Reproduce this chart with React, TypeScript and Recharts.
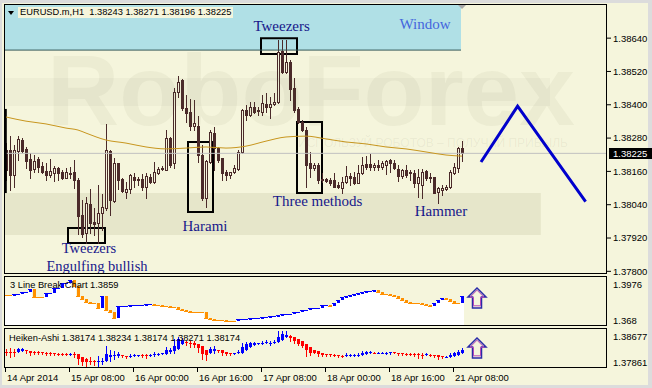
import React from 'react';
import {
  Bar,
  ComposedChart,
  Line,
  ReferenceArea,
  ReferenceDot,
  ReferenceLine,
  XAxis,
  YAxis,
} from 'recharts';

// EURUSD.m H1, one value per bar
const opens = [
  1.38237, 1.38237, 1.38147, 1.38233, 1.38273, 1.38241, 1.38205, 1.38169, 1.38205, 1.38179,
  1.38161, 1.38147, 1.38154, 1.38172, 1.38158, 1.38136, 1.38154, 1.38158, 1.38129, 1.38003,
  1.37938, 1.38043, 1.37978, 1.37974, 1.3801, 1.38028, 1.38233, 1.38053, 1.3819, 1.38133,
  1.38086, 1.38097, 1.3814, 1.38133, 1.38133, 1.38104, 1.3814, 1.38122, 1.38154, 1.38169,
  1.38165, 1.3828, 1.3819, 1.38446, 1.38489, 1.38388, 1.38374, 1.38323, 1.38323, 1.38219,
  1.38064, 1.38194, 1.38298, 1.38244, 1.38208, 1.38158, 1.38147, 1.38158, 1.38169, 1.3823,
  1.38381, 1.38363, 1.38392, 1.38378, 1.38374, 1.38403, 1.38392, 1.38403, 1.3841, 1.38593,
  1.38518, 1.38554, 1.3846, 1.38385, 1.38338, 1.38309, 1.3819, 1.38172, 1.38183, 1.38133,
  1.38133, 1.38129, 1.38129, 1.38111, 1.381, 1.38122, 1.38143, 1.3814, 1.38118, 1.38154,
  1.38187, 1.38187, 1.38176, 1.38183, 1.38176, 1.38183, 1.38201, 1.3819, 1.38169, 1.38143,
  1.38165, 1.38158, 1.38154, 1.38118, 1.38111, 1.38161, 1.3814, 1.3814, 1.38086, 1.38093,
  1.38097, 1.38104, 1.38154, 1.38172, 1.38243,
];
const highs = [
  1.38262, 1.38287, 1.38255, 1.38287, 1.3828, 1.38248, 1.38226, 1.38219, 1.38212, 1.38194,
  1.3819, 1.38205, 1.38179, 1.38176, 1.38165, 1.38172, 1.38176, 1.38201, 1.38136, 1.38057,
  1.38068, 1.38097, 1.38028, 1.38111, 1.38079, 1.38331, 1.38237, 1.38208, 1.3819, 1.38136,
  1.38122, 1.38151, 1.38154, 1.3814, 1.38151, 1.38154, 1.38151, 1.38194, 1.38176, 1.38179,
  1.38309, 1.38284, 1.3846, 1.38503, 1.38493, 1.38435, 1.38421, 1.38417, 1.38359, 1.38255,
  1.38201, 1.38309, 1.3832, 1.38248, 1.38208, 1.38165, 1.38158, 1.38183, 1.38237, 1.38385,
  1.38399, 1.3841, 1.3841, 1.38392, 1.38435, 1.38442, 1.38428, 1.38442, 1.38633, 1.38633,
  1.38633, 1.38561, 1.38496, 1.38392, 1.38345, 1.3832, 1.3823, 1.3819, 1.3819, 1.38154,
  1.38136, 1.38136, 1.38154, 1.38122, 1.3814, 1.38179, 1.38154, 1.38158, 1.38183, 1.38212,
  1.38215, 1.38223, 1.3819, 1.38201, 1.38197, 1.38201, 1.38205, 1.38201, 1.38183, 1.38169,
  1.38183, 1.38165, 1.38165, 1.38169, 1.38169, 1.38165, 1.38154, 1.3814, 1.38104, 1.38111,
  1.38111, 1.38165, 1.3819, 1.38248, 1.38271,
];
const lows = [
  1.38129, 1.38093, 1.38104, 1.38201, 1.3823, 1.38172, 1.38136, 1.38158, 1.38158, 1.38154,
  1.38129, 1.3814, 1.38125, 1.38129, 1.38133, 1.38136, 1.38136, 1.381, 1.37935, 1.37924,
  1.37902, 1.37938, 1.37931, 1.37902, 1.37949, 1.38021, 1.38003, 1.3805, 1.38097, 1.38086,
  1.38064, 1.38082, 1.38104, 1.38111, 1.38093, 1.38064, 1.38118, 1.38118, 1.38151, 1.38165,
  1.38165, 1.38176, 1.38172, 1.38428, 1.38381, 1.38338, 1.38309, 1.38309, 1.38194, 1.38057,
  1.38032, 1.3819, 1.38165, 1.38194, 1.38129, 1.38129, 1.38136, 1.38154, 1.38165, 1.38226,
  1.38345, 1.38359, 1.3837, 1.38363, 1.38363, 1.38374, 1.38352, 1.38399, 1.38406, 1.38514,
  1.38514, 1.38417, 1.38374, 1.38334, 1.38305, 1.38104, 1.3814, 1.38165, 1.38118, 1.38122,
  1.38122, 1.38111, 1.38104, 1.381, 1.38082, 1.38118, 1.38111, 1.38115, 1.38118, 1.38151,
  1.38169, 1.38165, 1.38165, 1.38165, 1.38169, 1.38151, 1.38158, 1.38169, 1.38125, 1.38136,
  1.3814, 1.38129, 1.38104, 1.38068, 1.38064, 1.38129, 1.38122, 1.38082, 1.38046, 1.38075,
  1.38093, 1.381, 1.38151, 1.38158, 1.38196,
];
const closes = [
  1.38165, 1.38147, 1.38237, 1.38277, 1.38233, 1.38197, 1.38165, 1.38197, 1.38176, 1.38158,
  1.38147, 1.38161, 1.38172, 1.38154, 1.38136, 1.38158, 1.38151, 1.38129, 1.37999, 1.37935,
  1.38046, 1.37974, 1.37971, 1.3801, 1.38032, 1.38237, 1.38057, 1.3819, 1.38129, 1.38089,
  1.38097, 1.38147, 1.38129, 1.38129, 1.38104, 1.38143, 1.38122, 1.38158, 1.38169, 1.38172,
  1.3828, 1.38183, 1.38446, 1.38482, 1.38388, 1.3837, 1.38323, 1.38334, 1.38219, 1.38064,
  1.38197, 1.38302, 1.38244, 1.38201, 1.38154, 1.38147, 1.38158, 1.38172, 1.3823, 1.38381,
  1.38363, 1.38392, 1.38374, 1.38381, 1.38406, 1.38392, 1.38403, 1.3841, 1.3859, 1.38518,
  1.38554, 1.38457, 1.38381, 1.38338, 1.38309, 1.38183, 1.38172, 1.38183, 1.38129, 1.38129,
  1.38125, 1.38118, 1.38104, 1.38104, 1.38122, 1.38143, 1.38136, 1.38118, 1.38154, 1.38183,
  1.38176, 1.38176, 1.38183, 1.38176, 1.3819, 1.38197, 1.3819, 1.38172, 1.38143, 1.38165,
  1.38147, 1.38154, 1.38118, 1.3814, 1.38158, 1.38136, 1.38136, 1.38082, 1.381, 1.381,
  1.38104, 1.38158, 1.38176, 1.38244, 1.38225,
];

// moving average, read at a few bars
const maBars = [0, 5, 10, 15, 18, 20, 25, 30, 35, 40, 45, 50, 55, 60, 65, 70, 75, 80, 85, 90, 95, 100, 105, 110, 114];
const maValues = [
  1.38356, 1.38341, 1.38331, 1.38316, 1.38309, 1.38298, 1.38273, 1.38262, 1.38248, 1.38241,
  1.38244, 1.38248, 1.38244, 1.38251, 1.38269, 1.38284, 1.38287, 1.38277, 1.38266, 1.38259,
  1.38248, 1.38241, 1.3823, 1.38219, 1.38215,
];

// hand-drawn forecast zigzag (bar position, price)
const zigzagBars = [118.75, 127.9, 144.9];
const zigzagPrices = [1.38194, 1.38395, 1.38051];

// 3 Line Break level per bar
const lineBreak = [
  1.3867, 1.3867, 1.3873, 1.3873, 1.3885, 1.3885, 1.3904, 1.3855, 1.3855, 1.3855,
  1.3879, 1.3879, 1.391, 1.391, 1.394, 1.394, 1.3958, 1.3922, 1.3861, 1.3843,
  1.3825, 1.3819, 1.3819, 1.3789, 1.3861, 1.3777, 1.3765, 1.3728, 1.3801, 1.3801,
  1.3801, 1.3807, 1.3807, 1.3807, 1.3807, 1.3813, 1.3813, 1.3807, 1.3807, 1.3801,
  1.3801, 1.3795, 1.3795, 1.3783, 1.3777, 1.3771, 1.3765, 1.3765, 1.3765, 1.3765,
  1.3728, 1.3722, 1.3716, 1.3716, 1.3716, 1.371, 1.371, 1.371, 1.3722, 1.3722,
  1.3722, 1.3728, 1.3728, 1.3728, 1.3734, 1.3734, 1.3741, 1.3741, 1.3747, 1.3753,
  1.3753, 1.3753, 1.3765, 1.3765, 1.3777, 1.3777, 1.3789, 1.3789, 1.3789, 1.3807,
  1.3807, 1.3801, 1.3819, 1.3837, 1.3855, 1.3861, 1.3867, 1.3873, 1.3879, 1.3885,
  1.3892, 1.3892, 1.3898, 1.3885, 1.3873, 1.3873, 1.3867, 1.3861, 1.3849, 1.3837,
  1.3825, 1.3819, 1.3819, 1.3819, 1.3813, 1.3807, 1.3801, 1.3819, 1.3837, 1.3849,
  1.3843, 1.3831, 1.3819, 1.3819, 1.3861,
];

const priceTicks = [1.3864, 1.3852, 1.384, 1.3828, 1.3816, 1.3804, 1.3792, 1.378];
const lineBreakScale = [1.368, 1.3976];
const haScale = [1.37861, 1.38677];
const dateTickBars = [0, 16, 32, 48, 64, 80, 96, 112];
const dateTickLabels = [
  '14 Apr 2014', '15 Apr 08:00', '16 Apr 00:00', '16 Apr 16:00',
  '17 Apr 08:00', '18 Apr 00:00', '18 Apr 16:00', '21 Apr 08:00',
];
const lastPrice = 1.38225;
const headerText = 'EURUSD.m,H1  1.38243 1.38271 1.38196 1.38225';
const lineBreakText = '3 Line Break Chart 1.3859';
const haText = 'Heiken-Ashi 1.38174 1.38234 1.38174 1.38271 1.38174';

const BG = '#F5F5DC';
const CANDLE = '#4B2A2A';
const NAVY = '#17178A';
const SANS = '"Liberation Sans", Arial, sans-serif';
const SERIF = '"Liberation Serif", "Times New Roman", serif';
const X_DOMAIN: [number, number] = [-0.25, 150.25];

const candles = opens.map((open, i) => ({
  i,
  open,
  high: highs[i],
  low: lows[i],
  close: closes[i],
  range: [lows[i], highs[i]],
}));

// Heiken-Ashi derived from the candles above
const heikenAshi: any[] = [];
opens.forEach((o, i) => {
  const haClose = (o + highs[i] + lows[i] + closes[i]) / 4;
  const haOpen =
    i === 0 ? (o + closes[i]) / 2 : (heikenAshi[i - 1].open + heikenAshi[i - 1].close) / 2;
  const high = Math.max(highs[i], haOpen, haClose);
  const low = Math.min(lows[i], haOpen, haClose);
  heikenAshi.push({ i, open: haOpen, close: haClose, high, low, range: [low, high] });
});

let lbColor = '#FF9000';
const lineBreakRows = lineBreak.map((lb, i) => {
  const prev = i === 0 ? lb : lineBreak[i - 1];
  if (lb > prev) lbColor = '#0000FF';
  else if (lb < prev) lbColor = '#FF9000';
  const top = Math.max(prev, lb);
  return { i, lb, prev, top, color: lbColor, col: [lineBreakScale[0], top] };
});

const maRows = maBars.map((i, k) => ({ i, ma: maValues[k] }));
const zigzagRows = zigzagBars.map((i, k) => ({ i, zz: zigzagPrices[k] }));

const CandleShape = (props: any) => {
  const { x, width, y, height, payload } = props;
  if (x == null || y == null) return null;
  const top = Math.min(y, y + height);
  const span = Math.abs(height);
  const { open, high, low, close } = payload;
  const toY = (p: number) => top + ((high - p) / (high - low)) * span;
  const cx = Math.round(x + width / 2);
  const bTop = Math.round(toY(Math.max(open, close)));
  const bBot = Math.round(toY(Math.min(open, close)));
  const bull = close > open;
  return (
    <g>
      <line x1={cx + 0.5} x2={cx + 0.5} y1={Math.round(top)} y2={Math.round(top + span) + 1} stroke={CANDLE} />
      {bBot - bTop < 1 ? (
        <rect x={cx - 1} y={bTop} width={3} height={1} fill={CANDLE} />
      ) : bull ? (
        <rect x={cx - 0.5} y={bTop + 0.5} width={2} height={bBot - bTop} fill={BG} stroke={CANDLE} />
      ) : (
        <rect x={cx - 1} y={bTop} width={3} height={bBot - bTop + 1} fill={CANDLE} />
      )}
    </g>
  );
};

const HaShape = (props: any) => {
  const { x, width, y, height, payload } = props;
  if (x == null || y == null) return null;
  const top = Math.min(y, y + height);
  const span = Math.abs(height);
  const { open, high, low, close } = payload;
  const toY = (p: number) => top + ((high - p) / (high - low)) * span;
  const cx = Math.round(x + width / 2);
  const bTop = Math.round(toY(Math.max(open, close)));
  const bBot = Math.round(toY(Math.min(open, close)));
  const color = close > open ? '#0000FF' : '#FF0000';
  return (
    <g>
      <line x1={cx + 0.5} x2={cx + 0.5} y1={Math.round(top)} y2={Math.round(top + span) + 1} stroke={color} />
      <rect x={cx - 1} y={bTop} width={3} height={Math.max(bBot - bTop, 1)} fill={color} />
    </g>
  );
};

const LineBreakShape = (props: any) => {
  const { x, width, y, height, payload } = props;
  if (x == null || y == null) return null;
  const top = Math.min(y, y + height);
  const span = Math.abs(height);
  const toY = (p: number) => top + ((payload.top - p) / (payload.top - lineBreakScale[0])) * span;
  const cx = Math.round(x + width / 2);
  const yLevel = Math.round(toY(payload.lb));
  const yPrev = Math.round(toY(payload.prev));
  const bTop = Math.min(yLevel, yPrev);
  const bBot = Math.max(yLevel, yPrev);
  return (
    <g>
      <rect x={cx - 2} y={yLevel} width={4} height={Math.round(top + span) - yLevel} fill="#FFFFFF" />
      <rect x={cx - 2} y={yLevel} width={4} height={1} fill={payload.color} />
      {bBot > bTop && (
        <rect x={cx - 1} y={bTop} width={3} height={Math.max(bBot - bTop, 2)} fill={payload.color} />
      )}
    </g>
  );
};

const textAt = (value: string, size: number, color: string, family: string) => (props: any) => (
  <text
    x={props.cx}
    y={props.cy}
    textAnchor="middle"
    dominantBaseline="central"
    fontSize={size}
    fontFamily={family}
    fill={color}
  >
    {value}
  </text>
);

const HollowArrow = (props: any) => {
  const { cx, cy } = props;
  const pts = (s: number) =>
    [[0, -10], [9, -1], [4.5, -1], [4.5, 10], [-4.5, 10], [-4.5, -1], [-9, -1]]
      .map(([dx, dy]) => `${cx + dx * s},${cy + dy * s}`)
      .join(' ');
  return (
    <g>
      <polygon points={pts(1)} fill="none" stroke="#2B2BA8" strokeWidth={1.5} />
      <polygon points={pts(0.78)} fill="none" stroke="#B648B6" strokeWidth={1} />
    </g>
  );
};

const PriceTag = (props: any) => {
  const { viewBox } = props;
  if (!viewBox) return null;
  const x = viewBox.x + viewBox.width;
  const y = viewBox.y;
  return (
    <g>
      <rect x={x + 2} y={Math.round(y) - 5} width={43} height={11} fill="#000" />
      <text x={x + 6} y={y + 0.5} dominantBaseline="central" fontSize={9.5} fontFamily={SANS} fill="#FFF">
        {lastPrice.toFixed(5)}
      </text>
    </g>
  );
};

const EdgeTick = (props: any) => {
  const { x, y, payload, top } = props;
  const isTop = payload.value === top;
  return (
    <text x={x} y={y + (isTop ? 7 : -6)} dominantBaseline="central" fontSize={9.5} fontFamily={SANS} fill="#000">
      {String(payload.value)}
    </text>
  );
};

const DateTick = (props: any) => {
  const { x, y, payload } = props;
  const k = dateTickBars.indexOf(Math.round(payload.value + 0.25));
  return (
    <g>
      <line x1={x + 0.5} x2={x + 0.5} y1={y} y2={y + 4} stroke="#000" />
      <text x={x + 2} y={y + 9.5} dominantBaseline="central" fontSize={9.5} fontFamily={SANS} fill="#000">
        {dateTickLabels[k]}
      </text>
    </g>
  );
};

const MainChart = () => (
  <ComposedChart width={652} height={280} data={candles} margin={{ top: 4, right: 0, bottom: 7, left: 5 }}>
    <XAxis type="number" dataKey="i" domain={X_DOMAIN} allowDataOverflow hide />
    <YAxis
      orientation="right"
      width={45}
      domain={[1.37794, 1.38763]}
      allowDataOverflow
      ticks={priceTicks}
      interval={0}
      axisLine={false}
      tickSize={4}
      tickMargin={2}
      tickLine={{ stroke: '#000' }}
      tick={{ fill: '#000', fontSize: 9.5, fontFamily: SANS }}
      tickFormatter={(v: number) => v.toFixed(5)}
    />
    <ReferenceArea x1={-0.25} x2={113.75} y1={1.38597} y2={1.38763} fill="#B0E0E6" fillOpacity={1} stroke="none" />
    <ReferenceLine segment={[{ x: -0.25, y: 1.38597 }, { x: 113.75, y: 1.38597 }]} stroke="#35585A" />
    <ReferenceArea x1={-0.25} x2={133.7} y1={1.37931} y2={1.38082} fill="#E6E6CA" fillOpacity={1} stroke="none" />
    <ReferenceLine y={lastPrice} stroke="#C0C0C0" label={<PriceTag />} />
    <ReferenceLine segment={[{ x: -0.05, y: 1.38385 }, { x: -0.05, y: 1.38082 }]} stroke="#000" strokeWidth={2} />
    <Line data={maRows} dataKey="ma" type="monotone" stroke="#C8961E" strokeWidth={1} dot={false} isAnimationActive={false} />
    <Bar dataKey="range" barSize={3} shape={<CandleShape />} isAnimationActive={false} />
    <Line data={zigzagRows} dataKey="zz" stroke="#0000CD" strokeWidth={3} dot={false} isAnimationActive={false} />
    <ReferenceArea x1={63.75} x2={72.75} y1={1.38583} y2={1.3864} fill="none" stroke="#000" strokeWidth={2} />
    <ReferenceArea x1={15.5} x2={24.75} y1={1.37902} y2={1.37956} fill="none" stroke="#000" strokeWidth={2} />
    <ReferenceArea x1={45.5} x2={51.75} y1={1.38014} y2={1.38266} fill="none" stroke="#000" strokeWidth={2} />
    <ReferenceArea x1={72.75} x2={79} y1={1.38082} y2={1.38338} fill="none" stroke="#000" strokeWidth={2} />
    <ReferenceDot x={104.75} y={1.38692} r={0} shape={textAt('Window', 15, '#4466DD', SERIF)} />
    <ReferenceDot x={68.9} y={1.38683} r={0} shape={textAt('Tweezers', 15, NAVY, SERIF)} />
    <ReferenceDot x={49.75} y={1.37963} r={0} shape={textAt('Harami', 15, NAVY, SERIF)} />
    <ReferenceDot x={77.9} y={1.38053} r={0} shape={textAt('Three methods', 15, NAVY, SERIF)} />
    <ReferenceDot x={108.75} y={1.38019} r={0} shape={textAt('Hammer', 15, NAVY, SERIF)} />
    <ReferenceDot x={20.75} y={1.37884} r={0} shape={textAt('Tweezers', 14.5, NAVY, SERIF)} />
    <ReferenceDot x={22.75} y={1.3782} r={0} shape={textAt('Engulfing bullish', 14.5, NAVY, SERIF)} />
  </ComposedChart>
);

const LineBreakChart = () => (
  <ComposedChart width={652} height={49} data={lineBreakRows} margin={{ top: 0, right: 0, bottom: 0, left: 5 }}>
    <XAxis type="number" dataKey="i" domain={X_DOMAIN} allowDataOverflow hide />
    <YAxis
      orientation="right"
      width={45}
      domain={lineBreakScale}
      allowDataOverflow
      ticks={lineBreakScale}
      interval={0}
      axisLine={false}
      tickLine={false}
      tickSize={4}
      tickMargin={2}
      tick={<EdgeTick top={lineBreakScale[1]} />}
    />
    <Bar dataKey="col" barSize={4} shape={<LineBreakShape />} isAnimationActive={false} />
    <ReferenceDot x={117.75} y={1.38492} r={0} shape={<HollowArrow />} />
  </ComposedChart>
);

const HeikenAshiChart = () => (
  <ComposedChart width={652} height={59} data={heikenAshi} margin={{ top: 0, right: 0, bottom: 0, left: 5 }}>
    <XAxis
      type="number"
      dataKey="i"
      domain={X_DOMAIN}
      allowDataOverflow
      height={20}
      ticks={dateTickBars.map((b) => b - 0.25)}
      interval={0}
      axisLine={false}
      tickLine={false}
      tickSize={0}
      tickMargin={0}
      tick={<DateTick />}
    />
    <YAxis
      orientation="right"
      width={45}
      domain={haScale}
      allowDataOverflow
      ticks={haScale}
      interval={0}
      axisLine={false}
      tickLine={false}
      tickSize={4}
      tickMargin={2}
      tick={<EdgeTick top={haScale[1]} />}
    />
    <Bar dataKey="range" barSize={3} shape={<HaShape />} isAnimationActive={false} />
    <ReferenceDot x={117.75} y={1.38279} r={0} shape={<HollowArrow />} />
  </ComposedChart>
);

const panelBorder = (top: number, height: number): React.CSSProperties => ({
  position: 'absolute',
  left: 4,
  top,
  width: 603,
  height,
  border: '1px solid #000',
  boxSizing: 'border-box',
  pointerEvents: 'none',
});

const smallText = (left: number, top: number): React.CSSProperties => ({
  position: 'absolute',
  left,
  top,
  fontFamily: SANS,
  fontSize: 9.3,
  lineHeight: '12px',
  color: '#000',
  whiteSpace: 'pre',
});

export default function App() {
  return (
    <div style={{ position: 'absolute', left: 0, top: 0, width: 652, height: 388, background: '#DCDCDC', overflow: 'hidden' }}>
      <div style={{ position: 'absolute', left: 2, top: 3, width: 646, height: 382, background: BG }} />
      <div style={{ position: 'absolute', left: 0, top: 0 }}>
        <MainChart />
      </div>
      <div style={{ position: 'absolute', left: 0, top: 277 }}>
        <LineBreakChart />
      </div>
      <div style={{ position: 'absolute', left: 0, top: 329 }}>
        <HeikenAshiChart />
      </div>

      <svg width={652} height={388} style={{ position: 'absolute', left: 0, top: 0, pointerEvents: 'none' }}>
        <rect x={5} y={78} width={545} height={28} fill="rgba(90,90,60,0.045)" />
        <text x={47} y={125} fontSize={100} fontWeight="bold" fontFamily={SANS} fill="rgba(90,90,60,0.055)">
          RoboForex
        </text>
        <text x={433} y={147} textAnchor="middle" fontSize={12} fontFamily={SANS} fill="rgba(90,90,60,0.08)">
          ИСПОЛЬЗУЙ РОБОТОВ – ПОЛУЧАЙ ПРИБЫЛЬ
        </text>
        <polygon points="457,4 467,4 462,9" fill="#A8A8A8" />
        <polygon points="8,11 14,11 11,15" fill="#000" />
      </svg>

      <div style={panelBorder(4, 270)} />
      <div style={panelBorder(276, 50)} />
      <div style={panelBorder(328, 40)} />

      <div style={{ ...smallText(18, 7), background: BG, padding: '0 2px', lineHeight: '11px' }}>{headerText}</div>
      <div style={smallText(10, 279)}>{lineBreakText}</div>
      <div style={smallText(9, 332)}>{haText}</div>
    </div>
  );
}
